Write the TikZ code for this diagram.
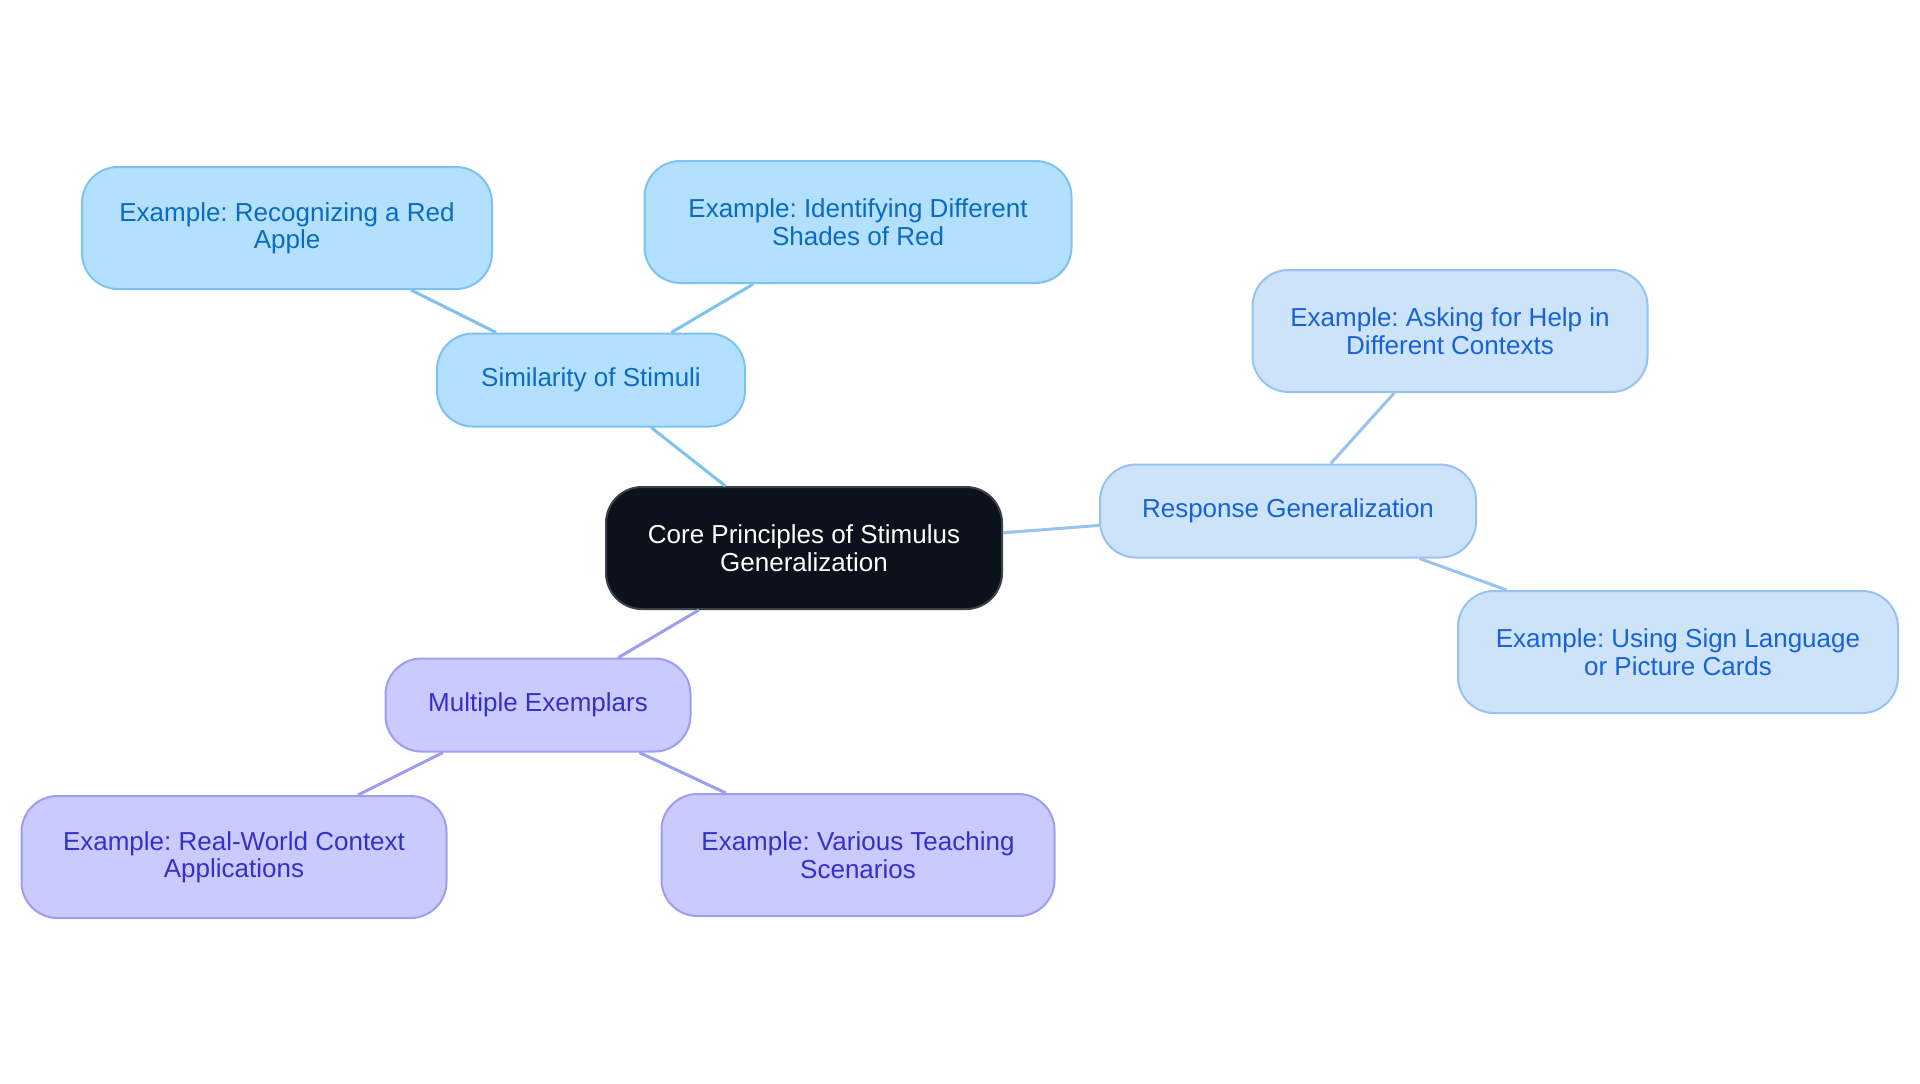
\documentclass[tikz,border=0pt]{standalone}
\usepackage{fontspec}
\setmainfont{Liberation Sans}
\frenchspacing
\definecolor{rootfill}{HTML}{0B121B}
\definecolor{rootline}{HTML}{3A3F48}
\definecolor{simfill}{HTML}{B3E0FE}
\definecolor{simline}{HTML}{7DC3F0}
\definecolor{simtext}{HTML}{0B6BBF}
\definecolor{respfill}{HTML}{CCE3FA}
\definecolor{respline}{HTML}{99C2EE}
\definecolor{resptext}{HTML}{1763D5}
\definecolor{multfill}{HTML}{C9CAFD}
\definecolor{multline}{HTML}{9D9DF1}
\definecolor{multtext}{HTML}{3431C8}
\begin{document}
\begin{tikzpicture}[x=0.5pt, y=-0.5pt,
		box/.style={rectangle, rounded corners=18pt, line width=1pt, align=center, inner sep=0pt,
			font=\fontsize{13pt}{13.7pt}\selectfont},
		rootbox/.style={box, fill=rootfill, draw=rootline, text=white, minimum width=198pt, minimum height=61pt},
		simbox/.style={box, fill=simfill, draw=simline, text=simtext},
		respbox/.style={box, fill=respfill, draw=respline, text=resptext},
		multbox/.style={box, fill=multfill, draw=multline, text=multtext},
		twoline/.style={minimum height=61pt},
		oneline/.style={minimum height=46.5pt},
		link/.style={line width=1.5pt}]
		\useasboundingbox (0,0) rectangle (1920,1083);

		\node[rootbox] (core) at (804,548) {Core Principles of Stimulus\\Generalization};

		\node[simbox, oneline, minimum width=154pt] (sim) at (591,380) {Similarity of Stimuli};
		\node[simbox, twoline, minimum width=205pt] (apple) at (287,228) {Example: Recognizing a Red\\Apple};
		\node[simbox, twoline, minimum width=213.5pt] (shades) at (858,222) {Example: Identifying Different\\Shades of Red};

		\node[respbox, oneline, minimum width=188pt] (resp) at (1288,511) {Response Generalization};
		\node[respbox, twoline, minimum width=197.5pt] (help) at (1450,331) {Example: Asking for Help in\\Different Contexts};
		\node[respbox, twoline, minimum width=220pt] (sign) at (1678,652) {Example: Using Sign Language\\or Picture Cards};

		\node[multbox, oneline, minimum width=152.5pt] (mult) at (538,705) {Multiple Exemplars};
		\node[multbox, twoline, minimum width=212.5pt] (world) at (234,857) {Example: Real-World Context\\Applications};
		\node[multbox, twoline, minimum width=196.5pt] (teach) at (858,855) {Example: Various Teaching\\Scenarios};

		\draw[link, simline] (core) -- (sim);
		\draw[link, simline] (sim) -- (apple);
		\draw[link, simline] (sim) -- (shades);

		\draw[link, respline] (core) -- (resp);
		\draw[link, respline] (resp) -- (help);
		\draw[link, respline] (resp) -- (sign);

		\draw[link, multline] (core) -- (mult);
		\draw[link, multline] (mult) -- (world);
		\draw[link, multline] (mult) -- (teach);
	\end{tikzpicture}
\end{document}
